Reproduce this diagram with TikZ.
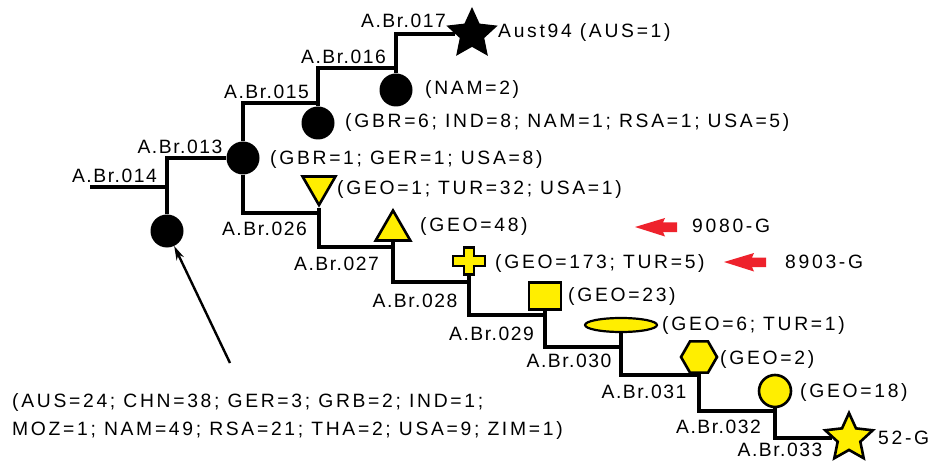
\documentclass[tikz,border=0pt]{standalone}
\usepackage{fontspec}
\setmainfont{Liberation Sans}
\newfontfamily\cntfont[LetterSpace=14]{Liberation Sans}
\newfontfamily\brfont[LetterSpace=8]{Liberation Sans}
\usetikzlibrary{shapes.geometric,arrows.meta}
\definecolor{ylw}{RGB}{255,238,0}
\definecolor{arrred}{RGB}{238,34,44}
\begin{document}
\begin{tikzpicture}[x=1pt,y=-1pt,
  branch/.style={line width=3.2pt,black},
  blk/.style={circle,fill=black,inner sep=0,minimum size=33},
  yshp/.style={fill=ylw,draw=black,line width=2.6pt,inner sep=0},
  brlbl/.style={anchor=base,inner sep=0,font=\brfont\fontsize{19.3}{22}\selectfont},
  cnt/.style={anchor=base west,inner sep=0,font=\cntfont\fontsize{19.3}{22}\selectfont},
  redarr/.style={fill=arrred},
]
\useasboundingbox (0,0) rectangle (933,462);
\fill[white] (0,0) rectangle (933,462);

% junction coordinates
\coordinate (r0) at (90,187);
\coordinate (j015) at (318,103);
\coordinate (j016) at (396,68);
\coordinate (j026) at (319,213);
\coordinate (j027) at (393,247);
\coordinate (j028) at (469,282);
\coordinate (j029) at (545,315);
\coordinate (j030) at (621,347);
\coordinate (j031) at (699,375);
\coordinate (j032) at (775,411);
\coordinate (atail) at (230,363);

% shape nodes
\node[blk] (n014) at (167,231) {};
\node[blk] (n013) at (243,158) {};
\node[blk] (n015) at (318,123) {};
\node[blk] (n016) at (396,90) {};
\node[star,star points=5,star point ratio=2.1,fill=black,inner sep=0,minimum size=54] (n017) at (472,34) {};
\node[yshp,regular polygon,regular polygon sides=3,shape border rotate=180,minimum size=38] (n026) at (319,186) {};
\node[yshp,regular polygon,regular polygon sides=3,minimum size=40] (n027) at (393,230.5) {};
\node[rectangle,inner sep=0,minimum width=32,minimum height=27] (n028) at (469,261) {};
\filldraw[fill=ylw,draw=black,line width=2.6pt,shift={(n028.center)}]
  (-16,-5) -- (-5,-5) -- (-5,-13.5) -- (5,-13.5) -- (5,-5) -- (16,-5)
  -- (16,5) -- (5,5) -- (5,13.5) -- (-5,13.5) -- (-5,5) -- (-16,5) -- cycle;
\node[yshp,rectangle,minimum width=32,minimum height=27] (n029) at (545,296) {};
\node[yshp,ellipse,line width=2.2pt,minimum width=72,minimum height=14] (n030) at (621,325) {};
\node[yshp,regular polygon,regular polygon sides=6,minimum size=36] (n031) at (699,357) {};
\node[yshp,circle,minimum size=32] (n032) at (775,391) {};
\node[yshp,star,star points=5,star point ratio=2.1,minimum size=50] (n033) at (849,438) {};

% branches
\draw[branch] (r0) -- (r0 -| n014);
\draw[branch] (n014) |- (n013);
\draw[branch] (n013) |- (j015) -- (n015);
\draw[branch] (n015) |- (j016) -- (n016);
\draw[branch] (n016) |- (n017);
\draw[branch] (n013) |- (j026) -- (n026);
\draw[branch] (n026) |- (j027) -- (n027);
\draw[branch] (n027) |- (j028) -- (n028);
\draw[branch] (n028) |- (j029) -- (n029);
\draw[branch] (n029) |- (j030) -- (n030);
\draw[branch] (n030) |- (j031) -- (n031);
\draw[branch] (n031) |- (j032) -- (n032);
\draw[branch] (n032) |- (n033);

% branch labels
\node[brlbl] (l014) at (114.5,183) {A.Br.014};
\node[brlbl] (l013) at (180,154) {A.Br.013};
\node[brlbl] (l015) at (266.5,99) {A.Br.015};
\node[brlbl] (l016) at (343.5,64) {A.Br.016};
\node[brlbl] (l017) at (403.5,28) {A.Br.017};
\node[brlbl] (l026) at (264.5,236) {A.Br.026};
\node[brlbl] (l027) at (336.5,270) {A.Br.027};
\node[brlbl] (l028) at (415,307) {A.Br.028};
\node[brlbl] (l029) at (491.5,340) {A.Br.029};
\node[brlbl] (l030) at (569,367) {A.Br.030};
\node[brlbl] (l031) at (644,398) {A.Br.031};
\node[brlbl] (l032) at (718.5,433) {A.Br.032};
\node[brlbl] (l033) at (780,456) {A.Br.033};

% counts
\node[cnt] (t017) at (498,38) {Aust94 (AUS=1)};
\node[cnt] (t016) at (425,95) {(NAM=2)};
\node[cnt] (t015) at (345,128) {(GBR=6; IND=8; NAM=1; RSA=1; USA=5)};
\node[cnt] (t013) at (270,165) {(GBR=1; GER=1; USA=8)};
\node[cnt] (t026) at (337,195) {(GEO=1; TUR=32; USA=1)};
\node[cnt] (t027) at (420,232) {(GEO=48)};
\node[cnt] (t028) at (495,268) {(GEO=173; TUR=5)};
\node[cnt] (t029) at (568,301) {(GEO=23)};
\node[cnt] (t030) at (662,330) {(GEO=6; TUR=1)};
\node[cnt] (t031) at (720,364) {(GEO=2)};
\node[cnt] (t032) at (800,397) {(GEO=18)};
\node[cnt] (t033) at (878,444) {52-G};
\node[cnt] (g9080) at (692,233) {9080-G};
\node[cnt] (g8903) at (785,268) {8903-G};
\node[cnt] (b1) at (12,407) {(AUS=24; CHN=38; GER=3; GRB=2; IND=1;};
\node[cnt] (b2) at (12,435) {MOZ=1; NAM=49; RSA=21; THA=2; USA=9; ZIM=1)};

% red arrows
\fill[redarr] (635,227) -- (665,218) -- (663,222.5) -- (677,222.5) -- (677,232) -- (663,232) -- (665,236.5) -- cycle;
\fill[redarr,shift={(89,35)}] (635,227) -- (665,218) -- (663,222.5) -- (677,222.5) -- (677,232) -- (663,232) -- (665,236.5) -- cycle;

% black arrow
\draw[line width=2.4pt,-{Stealth[length=14pt,width=8pt]}] (atail) -- (n014);
\end{tikzpicture}
\end{document}
